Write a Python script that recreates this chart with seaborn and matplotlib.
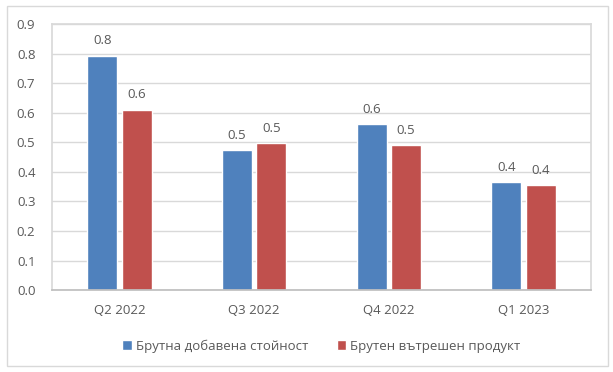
import numpy as np
import pandas as pd
import matplotlib.pyplot as plt
import seaborn as sns
from matplotlib.patches import Rectangle

# данни от графиката
quarters = ['Q2 2022', 'Q3 2022', 'Q4 2022', 'Q1 2023']
gva = [0.794, 0.473, 0.561, 0.365]
gdp = [0.611, 0.497, 0.490, 0.355]
series = ['Брутна добавена стойност', 'Брутен вътрешен продукт']
colors = ['#4f81bd', '#c0504d']

df = pd.DataFrame({
    'quarter': quarters * 2,
    'value': gva + gdp,
    'series': [series[0]] * 4 + [series[1]] * 4,
})

sns.set_theme(style='white')
plt.rcParams['font.family'] = ['Open Sans', 'DejaVu Sans']
txt = '#595959'

fig = plt.figure(figsize=(6.13, 3.72), dpi=100)
ax = fig.add_axes([0.085, 0.22, 0.879, 0.715])

sns.barplot(data=df, x='quarter', y='value', hue='series', palette=colors,
            width=0.51, gap=0.125, ax=ax, legend=True, saturation=1)

for c in ax.containers:
    ax.bar_label(c, fmt='%.1f', padding=6, fontsize=9.5, color=txt)

ax.set_ylim(0, 0.9)
ax.set_yticks(np.arange(0, 0.91, 0.1))
ax.set_yticklabels([f'{v:.1f}' for v in np.arange(0, 0.91, 0.1)])
ax.set_xlim(-0.5, 3.5)
ax.grid(axis='y', color='#d9d9d9', linewidth=1)
ax.set_axisbelow(True)
ax.set_xlabel('')
ax.set_ylabel('')
ax.tick_params(axis='both', labelsize=9.5, colors=txt, length=0)
ax.tick_params(axis='x', pad=10)
ax.tick_params(axis='y', pad=12)
for s in ax.spines.values():
    s.set_color('#d9d9d9')
ax.spines['bottom'].set_color('#bfbfbf')

ax.legend(loc='upper center', bbox_to_anchor=(0.5, -0.14), ncol=2, frameon=False,
          fontsize=9.5, labelcolor=txt, handlelength=0.7, handleheight=0.7,
          handletextpad=0.3, columnspacing=2.2)

fig.patches.append(Rectangle((0.0114, 0.016), 0.98, 0.968, transform=fig.transFigure,
                             fill=False, edgecolor='#d9d9d9', linewidth=1))

fig.savefig('out.png', dpi=100)
